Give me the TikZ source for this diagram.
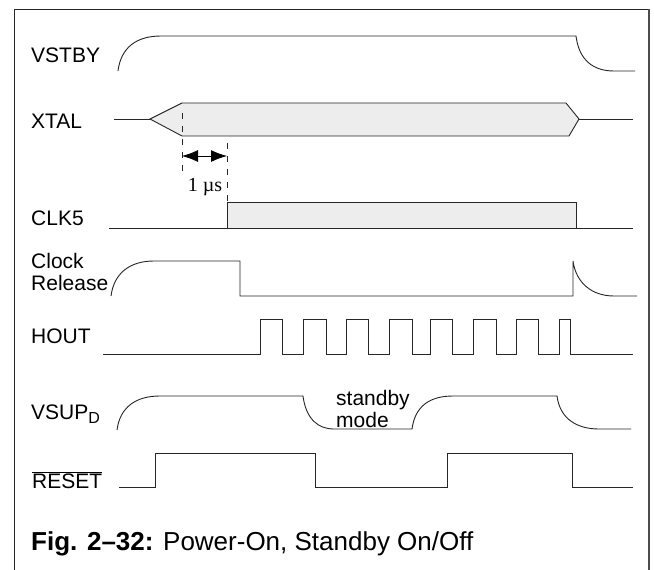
\documentclass[tikz,border=0pt]{standalone}
\usepackage{fontspec}
\setmainfont{Liberation Sans}
\newfontfamily\serifmu{Liberation Serif}
\usetikzlibrary{arrows.meta}
\tikzset{
  sig/.style   ={draw=black!85, line width=0.9pt, line join=miter},
  bus/.style   ={sig, fill=black!7},
  guide/.style ={draw=black!85, line width=0.9pt, dash pattern=on 6pt off 7pt},
  lbl/.style   ={anchor=base west, inner sep=0pt, font=\fontsize{21}{22}\selectfont},
  dim/.style   ={{Latex[length=16pt,width=12pt]}-{Latex[length=16pt,width=12pt]},
                 draw=black, line width=0.9pt},
  frameline/.style={draw=black!85, line width=1pt},
}

\begin{document}
\begin{tikzpicture}[x=1pt, y=-1pt]
\useasboundingbox (0,0) rectangle (654,570);

% ---- frame ----
\draw[frameline] (14,570) -- (14,9) -- (649,9);
\draw[frameline, draw=black!70, line width=1.8pt] (649,9) -- (649,570);

% ---- signal names ----
\node[lbl] (vstby)   at (31,62)  {VSTBY};
\node[lbl] (xtal)    at (31,128) {XTAL};
\node[lbl] (clkfive) at (31,225) {CLK5};
\node[lbl] (clock)   at (31,268) {Clock};
\node[lbl] (release) at (31,290) {Release};
\node[lbl] (hout)    at (31,343) {HOUT};
\node[lbl] (vsup)    at (31,419) {VSUP\raisebox{-4pt}{\fontsize{16}{16}\selectfont D}};
\node[lbl] (reset)   at (32,488) {$\overline{\mbox{RESET}}$};

% ---- VSTBY ----
\draw[sig] (118,71) .. controls (121,47) and (137,36) .. (161,36) -- (576,36)
  .. controls (579,60) and (593,71) .. (614,71) -- (635,71);

% ---- XTAL ----
\draw[sig] (114,119) -- (150,119);
\draw[bus] (150,119) -- (182,103) -- (566,103) -- (579,119) -- (569,136) -- (182,136) -- cycle;
\draw[sig] (579,119) -- (633,119);

% ---- start-up delay ----
\draw[guide] (182,113) -- (182,172);
\draw[guide] (227,143) -- (227,202);
\coordinate (oscon) at (182,156);
\coordinate (clkon) at (227,156);
\draw[dim] (oscon) -- (clkon);
\node[anchor=base, inner sep=0pt, font=\serifmu\fontsize{20}{20}\selectfont] (tdelay) at (205,191) {1 µs};

% ---- CLK5 ----
\draw[bus] (227,228) -- (227,202) -- (576,202) -- (576,228);
\draw[sig] (109,228) -- (633,228);

% ---- Clock Release ----
\draw[sig] (111,296) .. controls (114,273) and (130,261) .. (154,261) -- (240,261) -- (240,296)
  -- (573,296) -- (573,261) .. controls (576,283) and (592,296) .. (614,296) -- (637,296);

% ---- HOUT ----
\draw[sig] (103,354) foreach \r/\f in {260/282,303/326,346/368,389/412,430/452,473/496,516/538,559/570}
  { -- (\r,354) -- (\r,319) -- (\f,319) -- (\f,354) } -- (633,354);

% ---- VSUP_D ----
\draw[sig] (117,430) .. controls (120,407) and (136,396) .. (160,396) -- (303,396)
  .. controls (306,419) and (318,429) .. (334,429) -- (412,429)
  .. controls (415,406) and (430,396) .. (453,396) -- (557,396)
  .. controls (560,419) and (577,429) .. (599,429) -- (631,429);
\node[lbl] (standby) at (336,405) {standby};
\node[lbl] (mode)    at (336,427) {mode};

% ---- RESET ----
\draw[sig] (119,487) -- (155,487) -- (155,453) -- (315,453) -- (315,487) -- (447,487)
  -- (447,453) -- (572,453) -- (572,487) -- (633,487);

% ---- caption ----
\node[anchor=base west, inner sep=0pt, font=\fontsize{26}{28}\selectfont] (caption) at (31,550)
  {\textbf{Fig. 2–32:} Power-On, Standby On/Off};

\end{tikzpicture}
\end{document}
